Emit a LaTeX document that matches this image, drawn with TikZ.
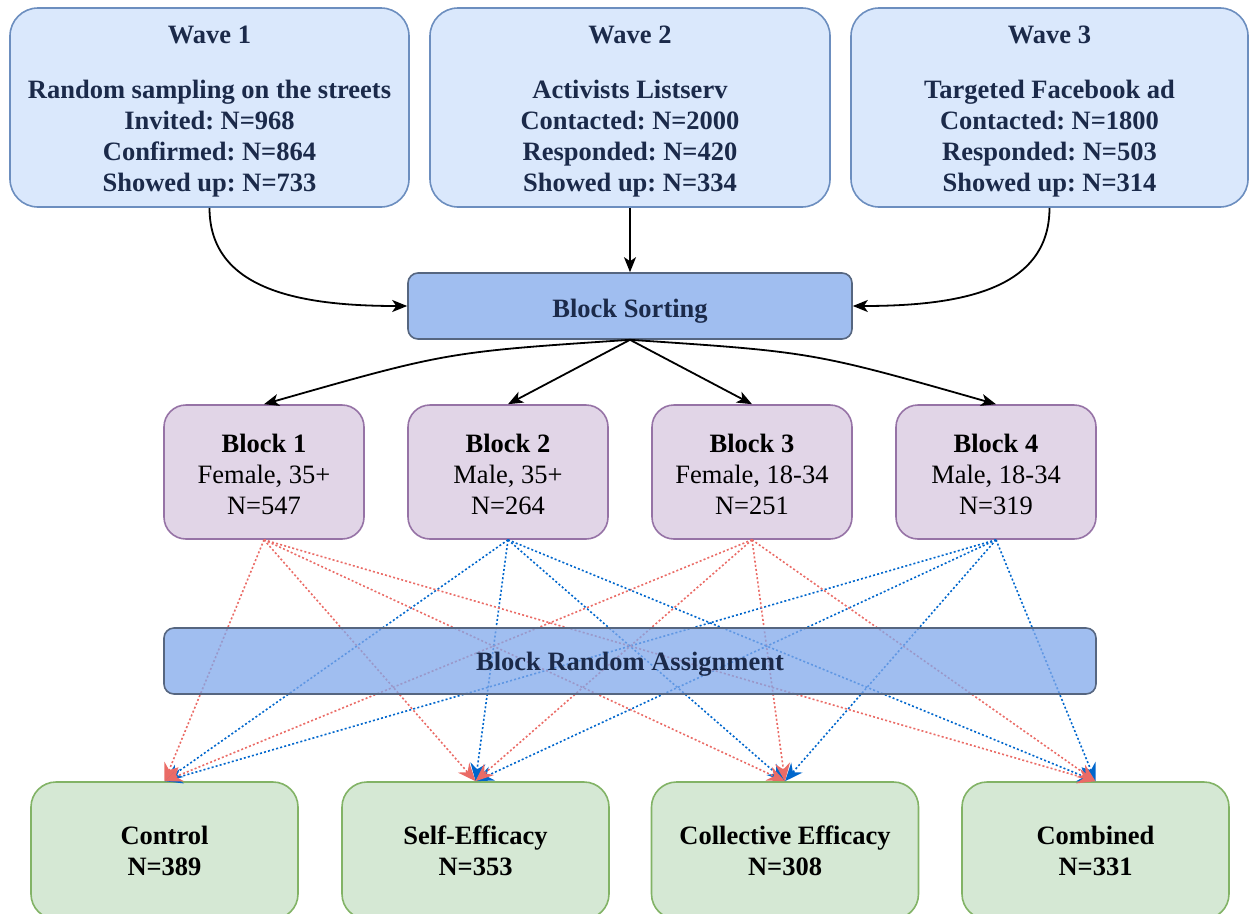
\documentclass[tikz,border=0pt]{standalone}
\usepackage{fontspec}
\setmainfont{Liberation Serif}
\usetikzlibrary{arrows.meta}
\definecolor{wavefill}{HTML}{DAE8FC}
\definecolor{waveline}{HTML}{6C8EBF}
\definecolor{navy}{HTML}{1B2A4A}
\definecolor{sortfill}{RGB}{160,190,240}
\definecolor{rafill}{RGB}{128,168,235}
\definecolor{sortline}{RGB}{86,102,128}
\definecolor{blkfill}{HTML}{E1D5E7}
\definecolor{blkline}{HTML}{9673A6}
\definecolor{grpfill}{HTML}{D5E8D4}
\definecolor{grpline}{HTML}{82B366}
\definecolor{redl}{HTML}{EA6B66}
\definecolor{bluel}{HTML}{0066CC}
\frenchspacing
\begin{document}
\begin{tikzpicture}[x=1pt,y=-1pt,
  base/.style={draw, line width=1.6pt, align=center, inner sep=0pt, font=\fontsize{26.5}{31}\selectfont},
  wave/.style={base, fill=wavefill, draw=waveline, rounded corners=28pt, minimum height=199pt, text=navy, font=\fontsize{26.5}{31}\selectfont\bfseries},
  sortbox/.style={base, fill=sortfill, draw=sortline, rounded corners=10pt, minimum height=66pt, text=navy, font=\fontsize{26.5}{31}\selectfont\bfseries},
  blk/.style={base, fill=blkfill, draw=blkline, rounded corners=22pt, minimum width=200pt, minimum height=134pt},
  grp/.style={base, fill=grpfill, draw=grpline, rounded corners=25pt, minimum width=267pt, minimum height=137pt, font=\fontsize{26.5}{31}\selectfont\bfseries},
  flow/.style={line width=1.8pt, -{Stealth[length=15pt,width=12pt,inset=4pt]}},
  dots/.style={line width=1.6pt, dash pattern=on 2pt off 2.2pt, -{Stealth[length=18pt,width=15pt,inset=6pt]}},
  redd/.style={dots, draw=redl},
  blued/.style={dots, draw=bluel}
]
\useasboundingbox (0,0) rectangle (1249,913);

\node[wave, minimum width=399pt] (w1) at (209.5,107.5) {\rule{0pt}{25.5pt}Wave 1\\[24pt]Random sampling on the streets\\Invited: N=968\\Confirmed: N=864\\Showed up: N=733};
\node[wave, minimum width=400pt] (w2) at (630,107.5) {\rule{0pt}{25.5pt}Wave 2\\[24pt]Activists Listserv\\Contacted: N=2000\\Responded: N=420\\Showed up: N=334};
\node[wave, minimum width=397pt] (w3) at (1049.5,107.5) {\rule{0pt}{25.5pt}Wave 3\\[24pt]Targeted Facebook ad\\Contacted: N=1800\\Responded: N=503\\Showed up: N=314};

\node[sortbox, minimum width=444pt] (sort) at (630,306) {\rule{0pt}{28pt}Block Sorting};

\node[blk] (b1) at (264,472) {\rule{0pt}{22.5pt}\textbf{Block 1}\\Female, 35+\\N=547};
\node[blk] (b2) at (508,472) {\rule{0pt}{22.5pt}\textbf{Block 2}\\Male, 35+\\N=264};
\node[blk] (b3) at (752,472) {\rule{0pt}{22.5pt}\textbf{Block 3}\\Female, 18-34\\N=251};
\node[blk] (b4) at (996,472) {\rule{0pt}{22.5pt}\textbf{Block 4}\\Male, 18-34\\N=319};

\node[grp] (g1) at (164.5,850.5) {Control\\N=389};
\node[grp] (g2) at (475.5,850.5) {Self-Efficacy\\N=353};
\node[grp] (g3) at (785,850.5) {Collective Efficacy\\N=308};
\node[grp] (g4) at (1095.5,850.5) {Combined\\N=331};

\draw[flow] (w1.south) .. controls (209.5,290) and (300,306) .. (sort.west);
\draw[flow] (w2.south) -- (sort.north);
\draw[flow] (w3.south) .. controls (1049.5,290) and (960,306) .. (sort.east);

\draw[flow] (sort.south) .. controls (447,352) .. (b1.north);
\draw[flow] (sort.south) -- (b2.north);
\draw[flow] (sort.south) -- (b3.north);
\draw[flow] (sort.south) .. controls (813,352) .. (b4.north);

\foreach \g in {g1,g2,g3,g4}{
  \draw[blued] (b2.south) -- (\g.north);
  \draw[blued] (b4.south) -- (\g.north);
  \draw[redd] (b1.south) -- (\g.north);
  \draw[redd] (b3.south) -- (\g.north);
}

\node[sortbox, fill=rafill, fill opacity=0.75, text opacity=1, minimum width=932pt] (ra) at (630,661) {\rule{0pt}{24pt}Block Random Assignment};
\end{tikzpicture}
\end{document}
